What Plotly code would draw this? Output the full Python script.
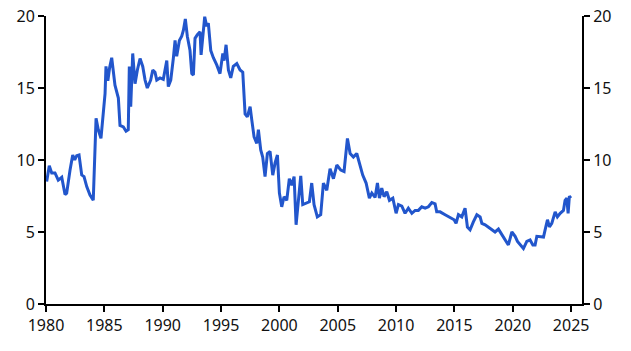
import plotly.graph_objects as go

years = [1980.06, 1980.28, 1980.49, 1980.77, 1981.05, 1981.35, 1981.63, 1981.77, 1982.06, 1982.29,
         1982.46, 1982.63, 1982.83, 1983.06, 1983.26, 1983.49, 1983.77, 1984.05, 1984.29, 1984.48,
         1984.71, 1984.91, 1985.06, 1985.14, 1985.30, 1985.45, 1985.63, 1985.91, 1986.20, 1986.34,
         1986.63, 1986.86, 1987.05, 1987.14, 1987.26, 1987.43, 1987.63, 1987.83, 1988.06, 1988.29,
         1988.49, 1988.68, 1988.97, 1989.15, 1989.34, 1989.49, 1989.77, 1990.05, 1990.35, 1990.48,
         1990.69, 1990.91, 1991.06, 1991.20, 1991.43, 1991.63, 1991.77, 1991.94, 1992.11, 1992.34,
         1992.49, 1992.63, 1992.77, 1992.97, 1993.20, 1993.29, 1993.48, 1993.60, 1993.77, 1993.91,
         1994.12, 1994.34, 1994.63, 1994.91, 1995.15, 1995.26, 1995.43, 1995.63, 1995.83, 1996.05,
         1996.35, 1996.63, 1996.86, 1997.06, 1997.25, 1997.49, 1997.63, 1997.83, 1998.06, 1998.20,
         1998.40, 1998.57, 1998.77, 1998.97, 1999.20, 1999.43, 1999.63, 1999.83, 2000.00, 2000.20,
         2000.40, 2000.63, 2000.85, 2001.06, 2001.26, 2001.43, 2001.63, 2001.83, 2002.00, 2002.29,
         2002.57, 2002.77, 2002.97, 2003.25, 2003.54, 2003.77, 2004.06, 2004.34, 2004.63, 2004.92,
         2005.26, 2005.54, 2005.83, 2006.06, 2006.34, 2006.63, 2006.85, 2007.14, 2007.43, 2007.71,
         2007.92, 2008.20, 2008.40, 2008.57, 2008.77, 2008.97, 2009.20, 2009.43, 2009.72, 2010.00,
         2010.20, 2010.49, 2010.77, 2011.05, 2011.35, 2011.63, 2011.91, 2012.20, 2012.49, 2012.77,
         2013.06, 2013.34, 2013.48, 2013.77, 2014.20, 2014.63, 2014.97, 2015.14, 2015.34, 2015.63,
         2015.91, 2016.11, 2016.34, 2016.62, 2016.92, 2017.20, 2017.35, 2017.63, 2017.91, 2018.20,
         2018.48, 2018.77, 2019.06, 2019.34, 2019.62, 2019.92, 2020.20, 2020.40, 2020.63, 2020.91,
         2021.20, 2021.48, 2021.72, 2021.91, 2022.06, 2022.34, 2022.63, 2022.77, 2022.97, 2023.14,
         2023.34, 2023.63, 2023.82, 2024.06, 2024.34, 2024.48, 2024.63, 2024.74, 2024.85, 2024.97]

values = [8.5, 9.6, 9.1, 9.1, 8.6, 8.8, 7.6, 7.7, 9.3, 10.35,
          10.0, 10.3, 10.35, 8.96, 8.85, 8.15, 7.57, 7.2, 12.9, 12.1,
          11.5, 13.2, 14.6, 16.5, 15.5, 16.4, 17.1, 15.2, 14.3, 12.4,
          12.3, 12.0, 12.1, 16.5, 13.7, 17.4, 15.3, 16.25, 17.05, 16.5,
          15.55, 15.0, 15.55, 16.25, 16.1, 15.55, 15.7, 15.6, 16.9, 15.1,
          15.55, 17.05, 18.3, 17.2, 18.3, 18.6, 19.0, 19.8, 18.6, 17.6,
          16.0, 15.9, 18.45, 18.7, 18.9, 17.3, 19.3, 19.95, 19.3, 19.5,
          17.6, 17.1, 16.6, 16.0, 17.4, 16.9, 18.0, 16.25, 15.7, 16.5,
          16.7, 16.25, 16.1, 13.2, 13.0, 13.7, 12.8, 11.6, 11.15, 12.1,
          10.7, 10.2, 8.85, 10.45, 10.6, 8.95, 9.8, 10.35, 7.7, 6.75,
          7.45, 7.2, 8.7, 8.25, 8.85, 5.5, 7.2, 8.9, 6.9, 7.0,
          7.1, 8.4, 6.9, 6.05, 6.2, 8.4, 7.9, 9.4, 8.7, 9.65,
          9.3, 9.2, 11.5, 10.45, 10.2, 10.45, 9.8, 8.95, 8.4, 7.35,
          7.7, 7.4, 8.4, 7.35, 8.05, 7.45, 7.8, 7.2, 7.35, 6.3,
          6.9, 6.8, 6.3, 6.65, 6.3, 6.5, 6.5, 6.75, 6.65, 6.75,
          7.05, 6.95, 6.4, 6.4, 6.2, 6.0, 5.85, 5.6, 6.2, 6.05,
          6.65, 5.35, 5.15, 5.7, 6.2, 6.05, 5.6, 5.5, 5.35, 5.15,
          5.0, 5.2, 4.8, 4.45, 4.1, 5.0, 4.7, 4.35, 4.1, 3.85,
          4.35, 4.45, 4.1, 4.1, 4.7, 4.7, 4.65, 5.15, 5.85, 5.35,
          5.6, 6.4, 6.05, 6.3, 6.5, 7.2, 7.35, 6.3, 7.5, 7.35]

x_ticks = [1980, 1985, 1990, 1995, 2000, 2005, 2010, 2015, 2020, 2025]
y_ticks = [0, 5, 10, 15, 20]

line_color = "#2256CC"
font = dict(family="Noto Sans", size=16, color="#111111")

fig = go.Figure()
fig.add_trace(go.Scatter(x=years, y=values, mode="lines",
                         line=dict(color=line_color, width=3), showlegend=False,
                         hoverinfo="skip"))
fig.add_trace(go.Scatter(x=[years[0]], y=[values[0]], yaxis="y2", mode="markers",
                         marker=dict(opacity=0), showlegend=False, hoverinfo="skip"))

axis_common = dict(showgrid=False, zeroline=False, showline=True, linecolor="black",
                   linewidth=2, ticks="outside", ticklen=6, tickwidth=2, tickcolor="black",
                   tickfont=font, automargin=False)

fig.update_layout(
    width=631, height=351,
    margin=dict(l=46, r=49, t=16, b=47),
    paper_bgcolor="white", plot_bgcolor="white",
    xaxis=dict(range=[1980, 2025.93], tickvals=x_ticks, ticktext=[str(t) for t in x_ticks],
               **axis_common),
    yaxis=dict(range=[0, 20], tickvals=y_ticks, **axis_common),
    yaxis2=dict(range=[0, 20], tickvals=y_ticks, overlaying="y", side="right", **axis_common),
)

fig.write_html("out.html")
